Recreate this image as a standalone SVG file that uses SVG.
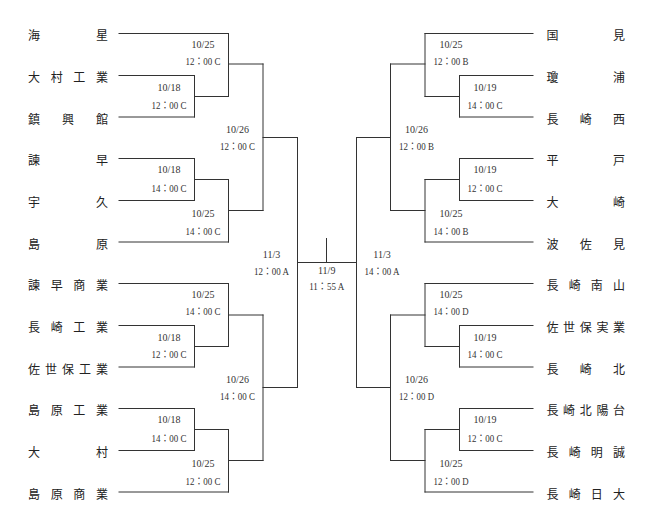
<svg xmlns="http://www.w3.org/2000/svg" width="654" height="526" viewBox="0 0 654 526">
<style>
.l{stroke:#333;stroke-width:1;fill:none;stroke-linecap:square}
.n{font-family:"Noto Sans CJK JP",sans-serif;font-size:12px;fill:#222}
.d{font-family:"Liberation Serif","Noto Sans CJK JP",serif;font-size:10px;fill:#333;text-anchor:middle}
.t{font-family:"Liberation Serif","Noto Sans CJK JP",serif;font-size:10px;fill:#333;text-anchor:middle}
</style>
<rect width="654" height="526" fill="#fff"/>
<g id="connectors">
<path class="l" d="M119 33.5H228.5M119 75.5H194.5M119 117H194.5M119 158.5H194.5M119 200.5H194.5M119 242H228.5M119 283.5H228.5M119 325.5H194.5M119 367H194.5M119 408.5H194.5M119 450.5H194.5M119 492H228.5"/>
<path class="l" d="M194.5 75.5V117M194.5 158.5V200.5M194.5 325.5V367M194.5 408.5V450.5M194.5 96.5H228.5M194.5 179.5H228.5M194.5 346.5H228.5M194.5 429.5H228.5"/>
<path class="l" d="M228.5 33.5V96.5M228.5 179.5V242M228.5 283.5V346.5M228.5 429.5V492M228.5 64H263M228.5 210.5H263M228.5 315H263M228.5 460.5H263"/>
<path class="l" d="M263 64V210.5M263 315V460.5M263 137.5H297.5M263 387.5H297.5M297.5 137.5V387.5M297.5 262.5H356.5M326.5 238.5V262.5"/>
<path class="l" d="M533 33.5H425M533 75.5H459.5M533 117H459.5M533 158.5H459.5M533 200.5H459.5M533 242H425M533 283.5H425M533 325.5H459.5M533 367H459.5M533 408.5H459.5M533 450.5H459.5M533 492H425"/>
<path class="l" d="M459.5 75.5V117M459.5 158.5V200.5M459.5 325.5V367M459.5 408.5V450.5M459.5 96.5H425M459.5 179.5H425M459.5 346.5H425M459.5 429.5H425"/>
<path class="l" d="M425 33.5V96.5M425 179.5V242M425 283.5V346.5M425 429.5V492M425 64H390.5M425 210.5H390.5M425 315H390.5M425 460.5H390.5"/>
<path class="l" d="M390.5 64V210.5M390.5 315V460.5M390.5 137.5H356.5M390.5 387.5H356.5M356.5 137.5V387.5"/>
</g>
<g id="team-l1"><text class="n" x="28 96" y="40">海星</text></g>
<g id="team-l2"><text class="n" x="28 50.7 73.3 96" y="82">大村工業</text></g>
<g id="team-l3"><text class="n" x="28 62 96" y="123.5">鎮興館</text></g>
<g id="team-l4"><text class="n" x="28 96" y="165">諫早</text></g>
<g id="team-l5"><text class="n" x="28 96" y="207">宇久</text></g>
<g id="team-l6"><text class="n" x="28 96" y="248.5">島原</text></g>
<g id="team-l7"><text class="n" x="28 50.7 73.3 96" y="290">諫早商業</text></g>
<g id="team-l8"><text class="n" x="28 50.7 73.3 96" y="332">長崎工業</text></g>
<g id="team-l9"><text class="n" x="28 45 62 79 96" y="373.5">佐世保工業</text></g>
<g id="team-l10"><text class="n" x="28 50.7 73.3 96" y="415">島原工業</text></g>
<g id="team-l11"><text class="n" x="28 96" y="457">大村</text></g>
<g id="team-l12"><text class="n" x="28 50.7 73.3 96" y="498.5">島原商業</text></g>
<g id="team-r1"><text class="n" x="546.5 613" y="40">国見</text></g>
<g id="team-r2"><text class="n" x="546.5 613" y="82">瓊浦</text></g>
<g id="team-r3"><text class="n" x="546.5 579.8 613" y="123.5">長崎西</text></g>
<g id="team-r4"><text class="n" x="546.5 613" y="165">平戸</text></g>
<g id="team-r5"><text class="n" x="546.5 613" y="207">大崎</text></g>
<g id="team-r6"><text class="n" x="546.5 579.8 613" y="248.5">波佐見</text></g>
<g id="team-r7"><text class="n" x="546.5 568.7 590.8 613" y="290">長崎南山</text></g>
<g id="team-r8"><text class="n" x="546.5 563.1 579.8 596.4 613" y="332">佐世保実業</text></g>
<g id="team-r9"><text class="n" x="546.5 579.8 613" y="373.5">長崎北</text></g>
<g id="team-r10"><text class="n" x="546.5 563.1 579.8 596.4 613" y="415">長崎北陽台</text></g>
<g id="team-r11"><text class="n" x="546.5 568.7 590.8 613" y="457">長崎明誠</text></g>
<g id="team-r12"><text class="n" x="546.5 568.7 590.8 613" y="498.5">長崎日大</text></g>
<g id="match-l1"><text class="d" x="203" y="47.7">10/25</text><text class="t" x="203" y="65.1" textLength="35" lengthAdjust="spacingAndGlyphs">12：00 C</text></g>
<g id="match-l2"><text class="d" x="169" y="90.5">10/18</text><text class="t" x="169" y="108.7" textLength="35" lengthAdjust="spacingAndGlyphs">12：00 C</text></g>
<g id="match-l3"><text class="d" x="237.5" y="132.7">10/26</text><text class="t" x="237.5" y="150.1" textLength="35" lengthAdjust="spacingAndGlyphs">12：00 C</text></g>
<g id="match-l4"><text class="d" x="169" y="173.4">10/18</text><text class="t" x="169" y="191.7" textLength="35" lengthAdjust="spacingAndGlyphs">14：00 C</text></g>
<g id="match-l5"><text class="d" x="203" y="217.1">10/25</text><text class="t" x="203" y="235.4" textLength="35" lengthAdjust="spacingAndGlyphs">14：00 C</text></g>
<g id="match-l6"><text class="d" x="271.5" y="257.7">11/3</text><text class="t" x="271.5" y="275.1" textLength="35" lengthAdjust="spacingAndGlyphs">12：00 A</text></g>
<g id="match-l7"><text class="d" x="203" y="297.7">10/25</text><text class="t" x="203" y="315.1" textLength="35" lengthAdjust="spacingAndGlyphs">14：00 C</text></g>
<g id="match-l8"><text class="d" x="169" y="340.7">10/18</text><text class="t" x="169" y="358.4" textLength="35" lengthAdjust="spacingAndGlyphs">12：00 C</text></g>
<g id="match-l9"><text class="d" x="237.5" y="382.7">10/26</text><text class="t" x="237.5" y="400.1" textLength="35" lengthAdjust="spacingAndGlyphs">14：00 C</text></g>
<g id="match-l10"><text class="d" x="169" y="423.4">10/18</text><text class="t" x="169" y="441.7" textLength="35" lengthAdjust="spacingAndGlyphs">14：00 C</text></g>
<g id="match-l11"><text class="d" x="203" y="467.1">10/25</text><text class="t" x="203" y="485.4" textLength="35" lengthAdjust="spacingAndGlyphs">12：00 C</text></g>
<g id="match-final"><text class="d" x="326.7" y="274.1">11/9</text><text class="t" x="326.7" y="290.1" textLength="35" lengthAdjust="spacingAndGlyphs">11：55 A</text></g>
<g id="match-r1"><text class="d" x="451" y="47.7">10/25</text><text class="t" x="451" y="65.1" textLength="35" lengthAdjust="spacingAndGlyphs">12：00 B</text></g>
<g id="match-r2"><text class="d" x="485" y="90.5">10/19</text><text class="t" x="485" y="108.7" textLength="35" lengthAdjust="spacingAndGlyphs">14：00 C</text></g>
<g id="match-r3"><text class="d" x="416.5" y="132.7">10/26</text><text class="t" x="416.5" y="150.1" textLength="35" lengthAdjust="spacingAndGlyphs">12：00 B</text></g>
<g id="match-r4"><text class="d" x="485" y="173.4">10/19</text><text class="t" x="485" y="191.7" textLength="35" lengthAdjust="spacingAndGlyphs">12：00 C</text></g>
<g id="match-r5"><text class="d" x="451" y="217.1">10/25</text><text class="t" x="451" y="235.4" textLength="35" lengthAdjust="spacingAndGlyphs">14：00 B</text></g>
<g id="match-r6"><text class="d" x="382" y="257.7">11/3</text><text class="t" x="382" y="275.1" textLength="35" lengthAdjust="spacingAndGlyphs">14：00 A</text></g>
<g id="match-r7"><text class="d" x="451" y="297.7">10/25</text><text class="t" x="451" y="315.1" textLength="35" lengthAdjust="spacingAndGlyphs">14：00 D</text></g>
<g id="match-r8"><text class="d" x="485" y="340.7">10/19</text><text class="t" x="485" y="358.4" textLength="35" lengthAdjust="spacingAndGlyphs">14：00 C</text></g>
<g id="match-r9"><text class="d" x="416.5" y="382.7">10/26</text><text class="t" x="416.5" y="400.1" textLength="35" lengthAdjust="spacingAndGlyphs">12：00 D</text></g>
<g id="match-r10"><text class="d" x="485" y="423.4">10/19</text><text class="t" x="485" y="441.7" textLength="35" lengthAdjust="spacingAndGlyphs">12：00 C</text></g>
<g id="match-r11"><text class="d" x="451" y="467.1">10/25</text><text class="t" x="451" y="485.4" textLength="35" lengthAdjust="spacingAndGlyphs">12：00 D</text></g>
</svg>
